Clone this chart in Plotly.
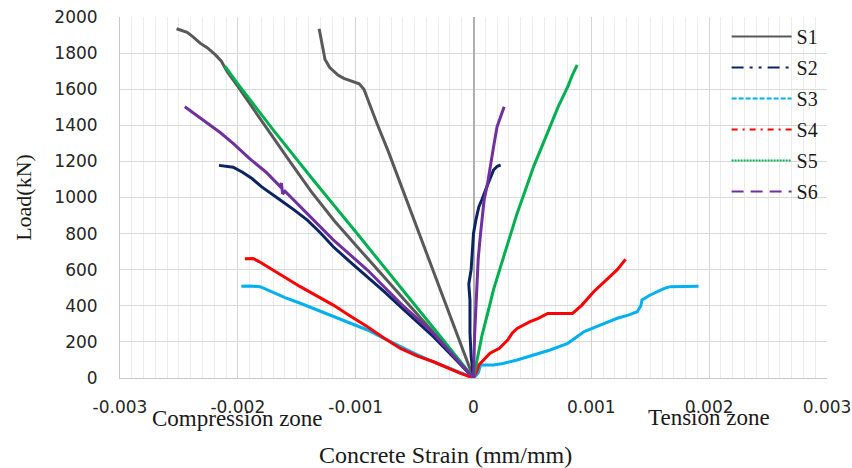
import plotly.graph_objects as go

# ---------------- data (strain in mm/mm, load in kN) ----------------
s1_strain = [-0.00252, -0.00248, -0.00243, -0.00238, -0.00232, -0.00226, -0.00219, -0.00214,
             -0.00209, -0.00200, -0.00185, -0.00170, -0.00155, -0.00138, -0.00118, -0.00095,
             -0.00065, -0.00033, 0.0,
             -0.00015, -0.00030, -0.00045, -0.00060, -0.00072, -0.00082, -0.00088, -0.00093,
             -0.00097, -0.00102, -0.00110, -0.00115, -0.00122, -0.00126, -0.00128, -0.00129, -0.00131]
s1_load = [1935, 1925, 1915, 1890, 1855, 1830, 1790, 1755,
           1697, 1615, 1472, 1332, 1192, 1035, 870, 700,
           482, 245, 0,
           260, 525, 790, 1050, 1250, 1411, 1510, 1600,
           1630, 1640, 1660, 1678, 1720, 1765, 1830, 1880, 1935]

s2_strain = [-0.00216, -0.00210, -0.00204, -0.00196, -0.00188, -0.00180, -0.00172, -0.00164,
             -0.00152, -0.00141, -0.00130, -0.00119, -0.00105, -0.00090, -0.00076, -0.00062,
             -0.00048, -0.00034, -0.00017, 0.0,
             -0.00002, -0.00003, -0.00003, -0.00004, -0.00002, -0.00001, 0.0, 0.00002,
             0.000045, 0.00007, 0.00010, 0.00013, 0.00017, 0.00020, 0.00023]
s2_load = [1178, 1175, 1168, 1140, 1105, 1060, 1025, 986,
           930, 875, 805, 727, 645, 561, 480, 395,
           310, 229, 115, 0,
           120, 250, 430, 520, 600, 709, 801, 875,
           948, 986, 1040, 1088, 1152, 1172, 1180]

s3_strain = [-0.00197, -0.00190, -0.00181, -0.00170, -0.00160, -0.00147, -0.00133, -0.00119,
             -0.00105, -0.00090, -0.00076, -0.00062, -0.00048, -0.00034, -0.00017, 0.0,
             0.00004, 0.00006, 0.00017, 0.00025, 0.00037, 0.00050, 0.00065, 0.00080, 0.00094,
             0.00108, 0.00122, 0.00132, 0.00139, 0.00142, 0.00143, 0.00150, 0.00162, 0.00167,
             0.00180, 0.00191]
s3_load = [508, 510, 506, 475, 445, 414, 378, 340,
           305, 266, 220, 173, 130, 90, 45, 0,
           28, 72, 72, 80, 100, 125, 155, 192, 257,
           294, 331, 350, 367, 400, 432, 460, 497, 506,
           508, 508]

s4_strain = [-0.00194, -0.00187, -0.00182, -0.00175, -0.00161, -0.00147, -0.00133, -0.00119,
             -0.00105, -0.00090, -0.00076, -0.00062, -0.00048, -0.00034, -0.00011, 0.0,
             0.00003, 0.000045, 0.00014, 0.00022, 0.00029, 0.00033, 0.00037, 0.00048, 0.00055,
             0.00063, 0.00084, 0.00092, 0.00102, 0.00114, 0.00122, 0.00129]
s4_load = [660, 662, 645, 617, 560, 506, 455, 404,
           345, 284, 222, 164, 122, 90, 26, 0,
           40, 72, 137, 165, 210, 250, 275, 312, 330,
           358, 358, 404, 478, 552, 600, 657]

s5_strain = [-0.00211, -0.00200, -0.00170, -0.00136, -0.00100, -0.00060, -0.00030, 0.0,
             0.00003, 0.00007, 0.00012, 0.00017, 0.00023, 0.00030, 0.00037, 0.00044, 0.00051,
             0.00058, 0.00065, 0.00072, 0.00080, 0.00084, 0.00088]
s5_load = [1728, 1630, 1375, 1097, 810, 490, 245, 0,
           100, 230, 358, 490, 617, 765, 912, 1040, 1171,
           1282, 1392, 1505, 1614, 1680, 1734]

s6_strain = [-0.00245, -0.00230, -0.00215, -0.00204, -0.00190, -0.00176, -0.00164, -0.00163,
             -0.00162, -0.00160, -0.00140, -0.00119, -0.00090, -0.00062, -0.00034, -0.00015, 0.0,
             0.00001, 0.00003, 0.00004, 0.00006, 0.00009, 0.00012, 0.00014, 0.00017, 0.00020,
             0.00023, 0.00026]
s6_load = [1503, 1430, 1360, 1300, 1215, 1140, 1060, 1080,
           1020, 1035, 905, 765, 598, 414, 247, 110, 0,
           247, 525, 660, 801, 986, 1080, 1171, 1280, 1392,
           1450, 1503]

series_names = ["S1", "S2", "S3", "S4", "S5", "S6"]
series_x = [s1_strain, s2_strain, s3_strain, s4_strain, s5_strain, s6_strain]
series_y = [s1_load, s2_load, s3_load, s4_load, s5_load, s6_load]
series_colors = ["#595959", "#0b2463", "#00B0F0", "#FF0000", "#00B050", "#7030A0"]
legend_dashes = ["solid", "12px,6px,3px,6px,3px,6px", "5px,2px", "6px,5px,2px,5px",
                 "2px,1px", "12px,7px"]

x_tickvals = [-0.003, -0.002, -0.001, 0, 0.001, 0.002, 0.003]
x_ticktext = ["-0.003", "-0.002", "-0.001", "0", "0.001", "0.002", "0.003"]
y_tickvals = list(range(0, 2001, 200))
y_ticktext = [str(v) for v in y_tickvals]

SERIF = "Liberation Serif, Times New Roman, serif"
SANS = "DejaVu Sans, Verdana, sans-serif"

fig = go.Figure()
for name, xs, ys, col in zip(series_names, series_x, series_y, series_colors):
    fig.add_trace(go.Scatter(x=xs, y=ys, mode="lines", name=name, showlegend=False,
                             line=dict(color=col, width=3)))
for name, col, dash in zip(series_names, series_colors, legend_dashes):
    fig.add_trace(go.Scatter(x=[None], y=[None], mode="lines", name=name, legendgroup=name,
                             line=dict(color=col, width=2, dash=dash)))

fig.update_layout(
    width=852, height=468,
    margin=dict(l=120, r=25, t=17, b=90, autoexpand=False),
    paper_bgcolor="white", plot_bgcolor="white",
    font=dict(family=SERIF, color="#1a1a1a"),
    showlegend=True,
    legend=dict(x=0.858, y=1.0, xanchor="left", yanchor="top",
                bgcolor="rgba(0,0,0,0)", font=dict(family=SERIF, size=20, color="#1a1a1a"),
                tracegroupgap=2, itemwidth=60),
    xaxis=dict(range=[-0.003, 0.003], tickvals=x_tickvals, ticktext=x_ticktext,
               tickfont=dict(family=SANS, size=17, color="#262626"),
               ticklabelstandoff=14, automargin=False,
               showgrid=True, gridcolor="#d4d4d4", gridwidth=1,
               minor=dict(dtick=0.0001, showgrid=True, gridcolor="#ececec", gridwidth=1),
               zeroline=True, zerolinecolor="#b0b0b0", zerolinewidth=1.5,
               showline=True, linecolor="#c8c8c8", linewidth=1, mirror=False),
    yaxis=dict(range=[0, 2000], tickvals=y_tickvals, ticktext=y_ticktext,
               tickfont=dict(family=SANS, size=17, color="#262626"),
               ticklabelstandoff=18, automargin=False,
               showgrid=True, gridcolor="#d9d9d9", gridwidth=1,
               zeroline=False,
               showline=True, linecolor="#c8c8c8", linewidth=1,
               title=dict(text="Load(kN)", font=dict(family=SERIF, size=22), standoff=16)),
)

# x-axis title sits left of the plot centre in the reference
fig.add_annotation(x=0.46, xref="paper", y=-0.213, yref="paper", yanchor="middle",
                   text="Concrete Strain (mm/mm)", showarrow=False,
                   font=dict(family=SERIF, size=24, color="#1a1a1a"))
fig.add_annotation(x=-0.002, xref="x", y=-0.113, yref="paper", yanchor="middle",
                   text="Compression zone", showarrow=False,
                   font=dict(family=SERIF, size=23, color="#1a1a1a"))
fig.add_annotation(x=0.002, xref="x", y=-0.11, yref="paper", yanchor="middle",
                   text="Tension zone", showarrow=False,
                   font=dict(family=SERIF, size=23, color="#1a1a1a"))

fig.write_html("out.html", config={"displayModeBar": False},
               post_script="document.body.style.margin='0px';")
